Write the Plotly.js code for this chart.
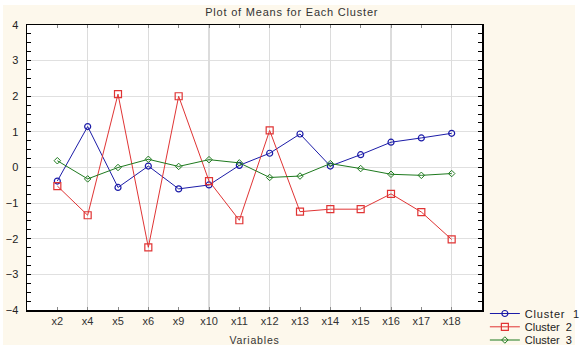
<!DOCTYPE html>
<html>
<head>
<meta charset="utf-8">
<script src="https://cdn.plot.ly/plotly-3.0.1.min.js"></script>
<style>
html,body{margin:0;padding:0;background:#ffffff;}
#bg{position:absolute;left:3px;top:5px;width:572px;height:340px;background:#fdf8ec;}
#chart{position:absolute;left:0;top:0;width:587px;height:356px;}
.gtitle{letter-spacing:0.8px;}
.legendtext{letter-spacing:0.8px;}
.g-xtitle text{letter-spacing:0.8px;}
</style>
</head>
<body>
<div id="bg"></div>
<div id="chart"></div>
<script>
const categories = ["x2","x4","x5","x6","x9","x10","x11","x12","x13","x14","x15","x16","x17","x18"];
const cluster1 = [-0.38, 1.15, -0.56, 0.04, -0.60, -0.49, 0.06, 0.40, 0.94, 0.04, 0.36, 0.71, 0.83, 0.96];
const cluster2 = [-0.52, -1.34, 2.06, -2.24, 2.00, -0.38, -1.48, 1.04, -1.24, -1.17, -1.17, -0.74, -1.25, -2.02];
const cluster3 = [0.19, -0.32, 0.00, 0.23, 0.03, 0.22, 0.13, -0.28, -0.24, 0.11, -0.03, -0.19, -0.22, -0.17];
const seriesNames = ["Cluster  1", "Cluster  2", "Cluster  3"];
const gridCats = ["x4","x6","x10","x12","x14","x16","x18"];

const font = "Arial, 'Liberation Sans', sans-serif";
const traces = [
  {x: categories, y: cluster1, name: seriesNames[0], legend: "legend", type: "scatter", mode: "lines+markers",
   line: {color: "#1c1ca8", width: 1}, marker: {symbol: "circle-open", size: 6, color: "#1c1ca8", line: {width: 1.2}}},
  {x: categories, y: cluster2, name: seriesNames[1], legend: "legend2", type: "scatter", mode: "lines+markers",
   line: {color: "#e03434", width: 1}, marker: {symbol: "square-open", size: 7, color: "#e03434", line: {width: 1.2}}},
  {x: categories, y: cluster3, name: seriesNames[2], legend: "legend3", type: "scatter", mode: "lines+markers",
   line: {color: "#1e7a1e", width: 1}, marker: {symbol: "diamond-open", size: 5, color: "#1e7a1e", line: {width: 1}}},
  {x: gridCats, y: gridCats.map(() => null), xaxis: "x2", showlegend: false, hoverinfo: "skip", type: "scatter", mode: "lines"}
];

function leg(yc) {
  return {xref: "container", yref: "container", x: 0.826, xanchor: "left", y: yc, yanchor: "middle",
          bgcolor: "rgba(0,0,0,0)", borderwidth: 0,
          font: {family: font, size: 11, color: "#222"}, itemwidth: 30};
}

const layout = {
  width: 587, height: 356,
  margin: {l: 27, r: 105, t: 25, b: 46},
  paper_bgcolor: "rgba(0,0,0,0)",
  plot_bgcolor: "#ffffff",
  font: {family: font, size: 10, color: "#222"},
  title: {text: "Plot of Means for Each Cluster", x: 0.497, xanchor: "center", y: 0.965, yanchor: "middle",
          font: {family: font, size: 11, color: "#333"}},
  xaxis: {
    type: "category", categoryorder: "array", categoryarray: categories,
    range: [-1, 14], showgrid: false, zeroline: false,
    showline: true, linecolor: "#000", linewidth: 1.5, mirror: "allticks",
    ticks: "inside", ticklen: 3, tickcolor: "#888",
    tickfont: {family: font, size: 11, color: "#333"},
    title: {text: "Variables", font: {family: font, size: 10.5, color: "#333"}, standoff: 11}
  },
  xaxis2: {
    type: "category", categoryorder: "array", categoryarray: categories,
    overlaying: "x", range: [-1, 14], showgrid: true, gridcolor: "#dcdcdc", gridwidth: 1.5,
    showticklabels: false, ticks: "", zeroline: false, showline: false,
    tickvals: gridCats
  },
  yaxis: {
    range: [-4, 4], dtick: 1, tick0: 0, showgrid: true, gridcolor: "#e0e0e0", gridwidth: 1,
    zeroline: false, showline: true, linecolor: "#000", linewidth: 1.5, mirror: "allticks",
    ticks: "inside", ticklen: 4, tickcolor: "#000",
    minor: {dtick: 0.25, ticks: "inside", ticklen: 2, tickcolor: "#000", showgrid: false},
    tickfont: {family: font, size: 11, color: "#222"}, ticklabelstandoff: 5
  },
  showlegend: true,
  legend: leg(1 - 313.5/356),
  legend2: leg(1 - 326.8/356),
  legend3: leg(1 - 340/356)
};

Plotly.newPlot("chart", traces, layout, {displayModeBar: false, staticPlot: true});
</script>
</body>
</html>
